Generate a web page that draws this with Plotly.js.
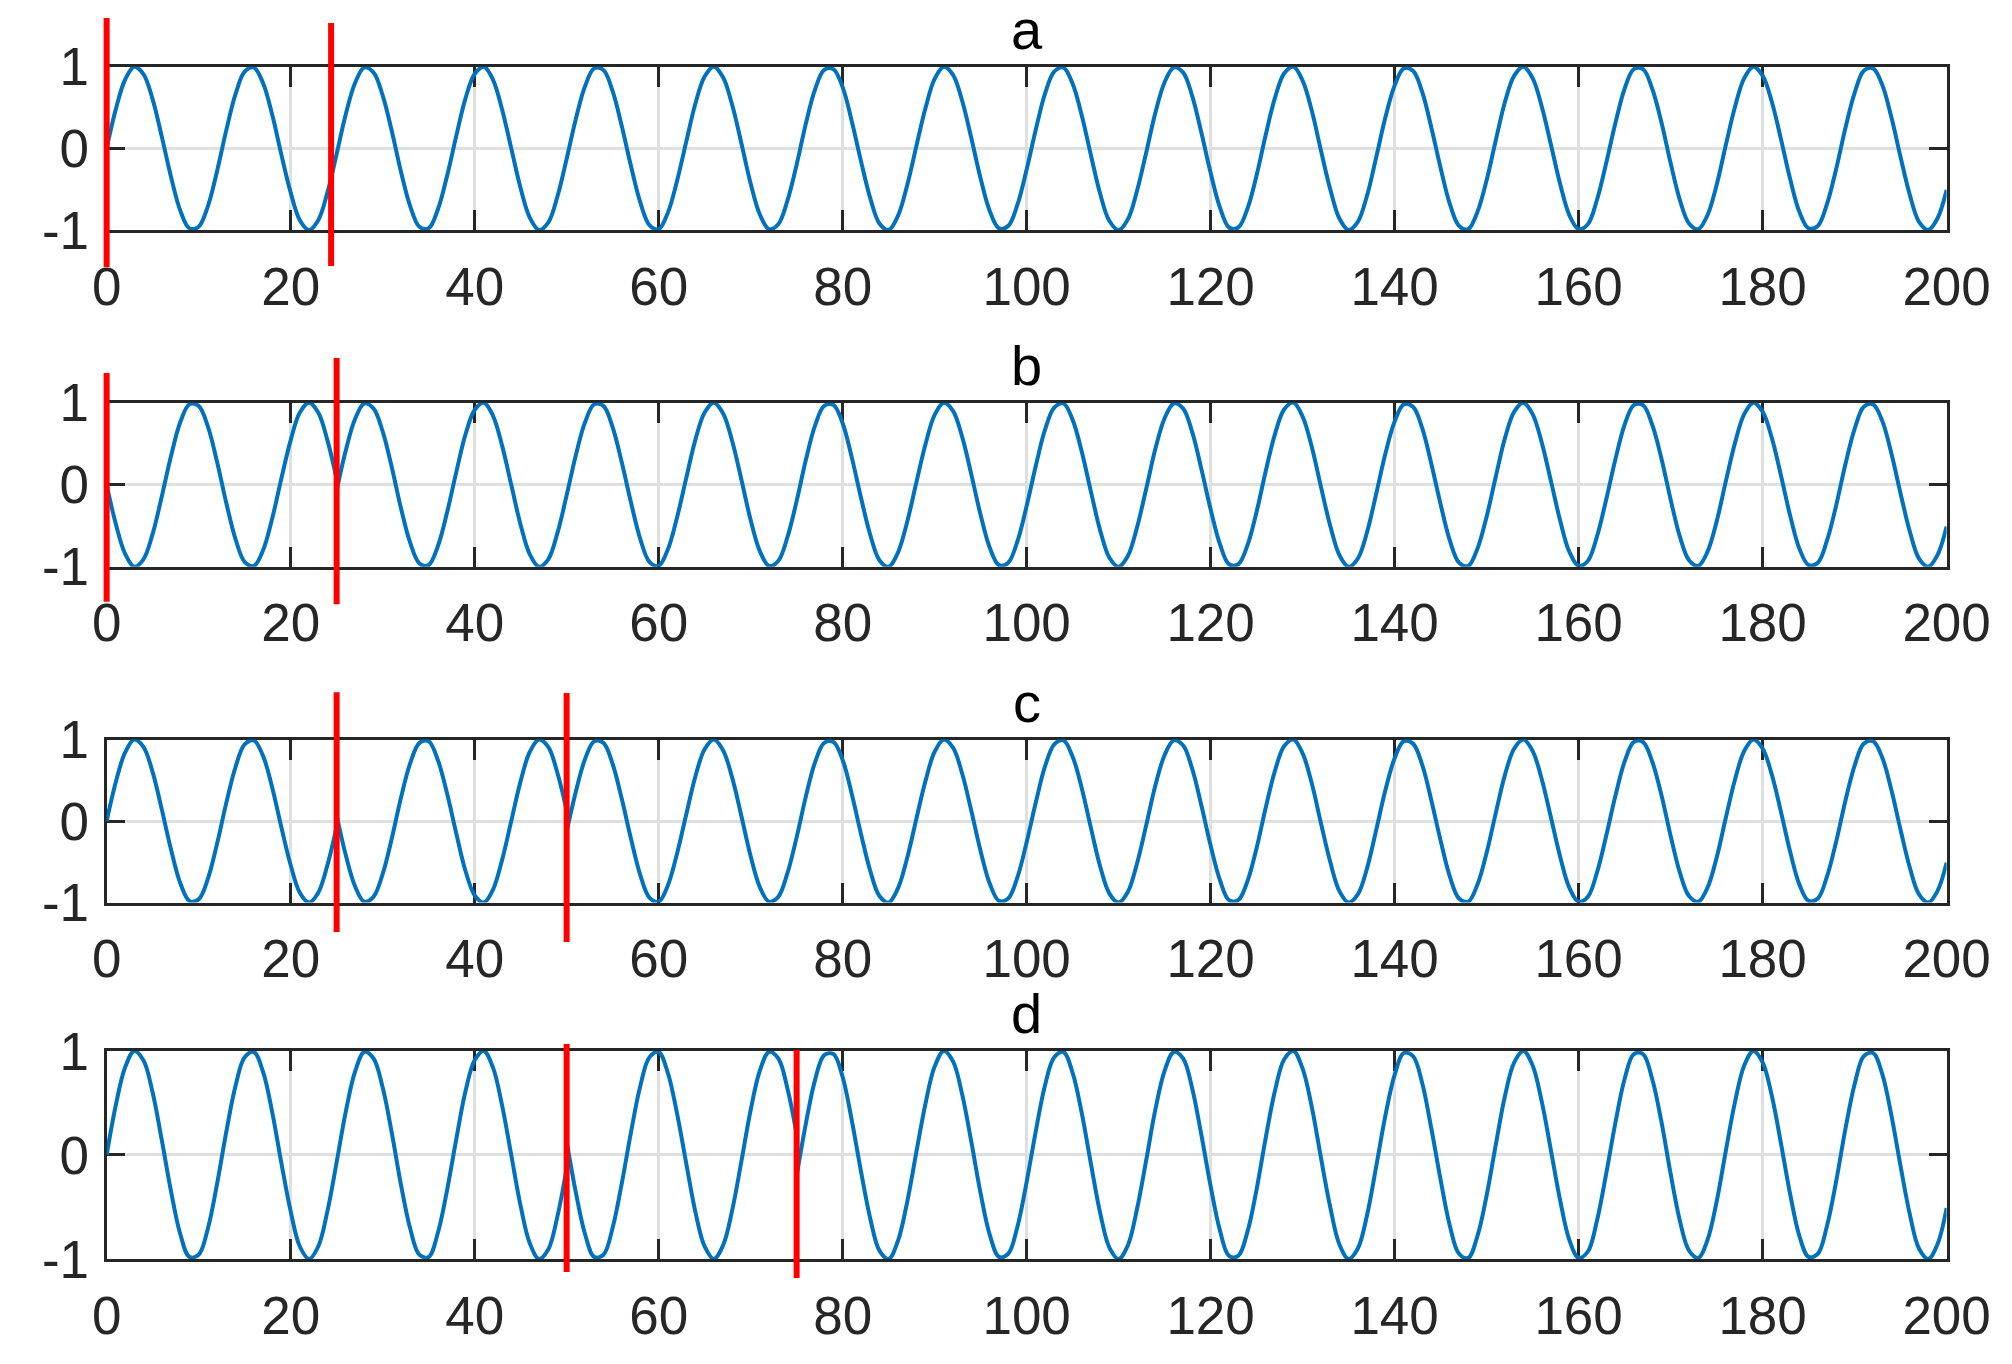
<!DOCTYPE html>
<html>
<head>
<meta charset="utf-8">
<script src="https://cdn.plot.ly/plotly-3.0.1.min.js"></script>
<style>
  html, body { margin: 0; padding: 0; background: #fff; }
  #chart { width: 2012px; height: 1364px; }
</style>
</head>
<body>
<div id="chart"></div>
<script>
// signal, one value per x step (x = 0, 1, ..., 200)
const wave = [
  0, 0.48, 0.84, 1.00, 0.91, 0.60, 0.14, -0.35, -0.76, -0.98, -0.96, -0.71, -0.28,
  0.22, 0.66, 0.94, 0.99, 0.80, 0.41, -0.08, -0.54, -0.88, -1.00, -0.88, -0.54, -0.07,
  0.42, 0.80, 0.99, 0.93, 0.65, 0.21, -0.29, -0.71, -0.96, -0.98, -0.75, -0.34,
  0.15, 0.61, 0.91, 1.00, 0.84, 0.47, -0.01, -0.49, -0.85, -1.00, -0.91, -0.59, -0.13,
  0.36, 0.76, 0.98, 0.96, 0.70, 0.27, -0.22, -0.66, -0.94, -0.99, -0.79, -0.40,
  0.08, 0.55, 0.88, 1.00, 0.87, 0.53, 0.06, -0.43, -0.81, -0.99, -0.93, -0.64, -0.20,
  0.30, 0.72, 0.96, 0.97, 0.75, 0.33, -0.16, -0.61, -0.92, -1.00, -0.83, -0.46,
  0.02, 0.49, 0.85, 1.00, 0.90, 0.58, 0.12, -0.37, -0.77, -0.98, -0.95, -0.69, -0.26,
  0.23, 0.67, 0.94, 0.99, 0.79, 0.40, -0.09, -0.56, -0.89, -1.00, -0.87, -0.52, -0.05,
  0.44, 0.81, 0.99, 0.93, 0.64, 0.19, -0.30, -0.72, -0.97, -0.97, -0.74, -0.33,
  0.17, 0.62, 0.92, 1.00, 0.83, 0.46, -0.03, -0.50, -0.86, -1.00, -0.90, -0.58, -0.11,
  0.38, 0.77, 0.98, 0.95, 0.69, 0.25, -0.24, -0.68, -0.95, -0.99, -0.78, -0.39,
  0.10, 0.57, 0.89, 1.00, 0.86, 0.51, 0.04, -0.44, -0.82, -0.99, -0.93, -0.63, -0.18,
  0.31, 0.73, 0.97, 0.97, 0.73, 0.32, -0.18, -0.63, -0.92, -0.99, -0.82, -0.45,
  0.04, 0.51, 0.86, 1.00, 0.89, 0.57, 0.11, -0.38, -0.78, -0.98, -0.95, -0.68, -0.25,
  0.25, 0.68, 0.95, 0.98, 0.78, 0.38, -0.11, -0.57, -0.90, -1.00, -0.86, -0.51
];

const panelTitles = ["a", "b", "c", "d"];
// x range over which each panel's signal is flipped (null = none)
const invertedSpans = [null, [0, 25], [25, 50], [50, 75]];
// x of the red marker lines in each panel
const redLineX = [[0, 24.4], [0, 25], [25, 50], [50, 75]];
const yTickVals = [-1, 0, 1];
const yTickText = ["-1", "0", "1"];

// ---- layout / style ----
const FONT = "Liberation Sans, Arial, sans-serif";
const INK = "#262626";
const X_DOMAIN = [0.0530, 0.9675];
const Y_DOMAINS = [[0.8314, 0.9511], [0.5845, 0.7048], [0.3383, 0.4578], [0.0770, 0.2295]];
// vertical reach of each red line, in fractions of its subplot height [top, bottom]
const RED_REACH = [
  [[1.298, -0.233], [1.268, -0.227]],
  [[1.181, -0.220], [1.272, -0.234]],
  [[1.291, -0.187], [1.285, -0.248]],
  [[1.034, -0.067], [1.005, -0.096]],
];

// pieces of a panel: [start, end, sign]; the flip edges get their own jump
function panelPieces(span) {
  const last = wave.length - 1;
  if (!span) return [[0, last, 1]];
  const pieces = [];
  if (span[0] > 0) pieces.push([0, span[0], 1]);
  pieces.push([span[0], span[1], -1]);
  if (span[1] < last) pieces.push([span[1], last, 1]);
  return pieces;
}

const traces = [];
const annotations = [];
const layout = {
  width: 2012, height: 1364,
  paper_bgcolor: "#fff", plot_bgcolor: "#fff",
  margin: { l: 0, r: 0, t: 0, b: 0 },
  font: { family: FONT, color: INK },
  showlegend: false,
};

panelTitles.forEach((title, p) => {
  const n = p === 0 ? "" : String(p + 1);
  const xa = "x" + n, ya = "y" + n;

  panelPieces(invertedSpans[p]).forEach(([s, e, sign]) => {
    traces.push({
      type: "scatter", mode: "lines",
      x0: s, dx: 1, y: wave.slice(s, e + 1).map(v => sign * v),
      xaxis: xa, yaxis: ya,
      line: { color: "#0072BD", width: 4, shape: "spline", smoothing: 1 },
      hoverinfo: "skip",
    });
  });

  const axisCommon = {
    ticks: "inside", tickwidth: 3, tickcolor: INK,
    showline: true, linewidth: 3, linecolor: INK, mirror: "ticks",
    showgrid: true, gridcolor: "#dfdfdf", gridwidth: 3,
    zeroline: false, layer: "below traces", fixedrange: true,
    tickfont: { family: FONT, size: 53, color: INK },
  };
  layout["xaxis" + n] = {
    ...axisCommon,
    domain: X_DOMAIN, anchor: ya,
    range: [0, 200], tick0: 0, dtick: 20,
    ticklen: 20, ticklabelstandoff: 8,
  };
  layout["yaxis" + n] = {
    ...axisCommon,
    domain: Y_DOMAINS[p], anchor: xa,
    range: [-1, 1], tickmode: "array", tickvals: yTickVals, ticktext: yTickText,
    ticklen: 18, ticklabelstandoff: 4,
  };

  annotations.push({
    text: title, showarrow: false,
    xref: xa + " domain", x: 0.5, yref: ya + " domain", y: 1,
    xanchor: "center", yanchor: "bottom", yshift: 4,
    font: { family: FONT, size: 56, color: "#000" },
  });

  redLineX[p].forEach((rx, j) => {
    const reach = RED_REACH[p][j];
    annotations.push({
      text: " ", font: { size: 1 }, borderpad: 0,
      showarrow: true, arrowhead: 0, arrowwidth: 6, arrowcolor: "#ff0000",
      standoff: 0, startstandoff: 0,
      xref: xa, x: rx, axref: xa, ax: rx,
      yref: ya + " domain", y: reach[0], ayref: ya + " domain", ay: reach[1],
    });
  });
});

layout.annotations = annotations;

Plotly.newPlot("chart", traces, layout, { displayModeBar: false, staticPlot: true });
</script>
</body>
</html>
